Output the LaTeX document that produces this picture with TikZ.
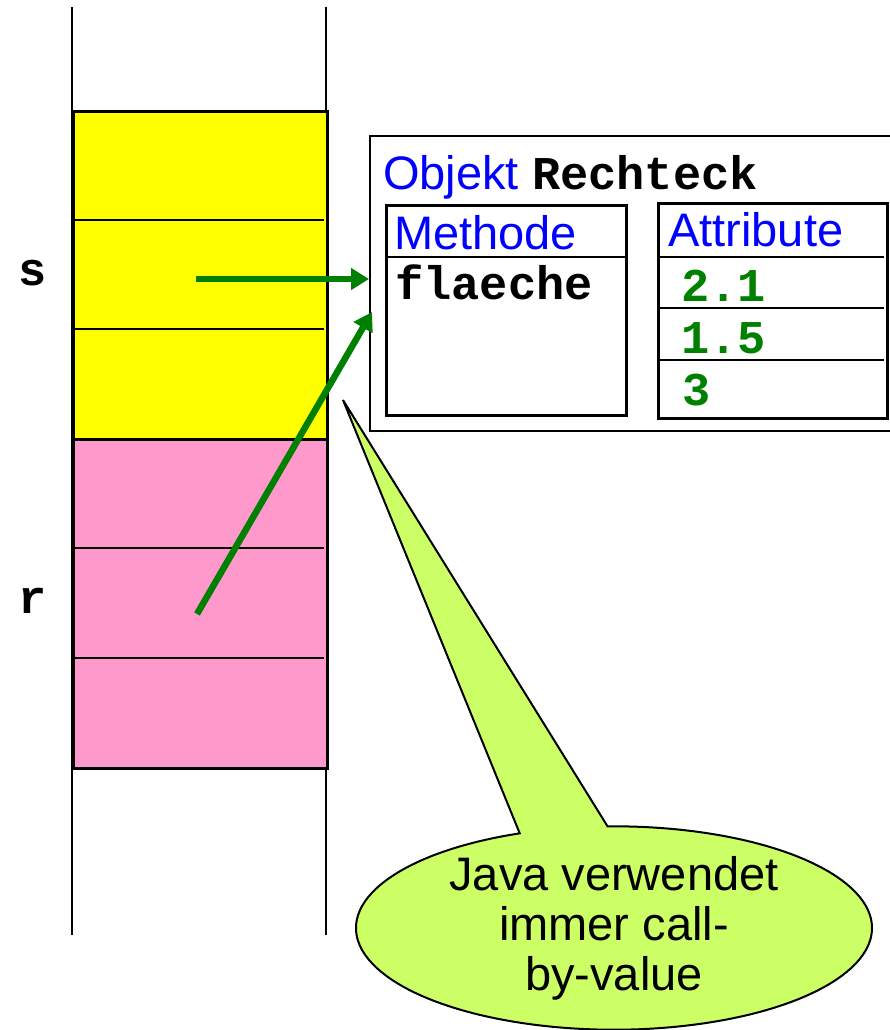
\documentclass[tikz,border=0pt]{standalone}
\usepackage{fontspec}
\setmainfont{Liberation Sans}
\setmonofont{Liberation Mono}
\usepackage{tikz}
\usetikzlibrary{arrows.meta,shapes.callouts}
\definecolor{stackyellow}{HTML}{FFFF00}
\definecolor{stackpink}{HTML}{FF99CC}
\definecolor{refgreen}{HTML}{008000}
\definecolor{titleblue}{HTML}{0000FF}
\definecolor{bubble}{HTML}{CCFF66}

\begin{document}
\begin{tikzpicture}[x=1pt, y=-1pt,
  txt/.style={inner sep=0pt, anchor=base west, font=\fontsize{47}{50}\selectfont},
  code/.style={txt, font=\fontsize{47}{50}\selectfont\ttfamily\bfseries},
  box/.style={draw, inner sep=0pt, anchor=north west, line width=2.5pt},
  ref/.style={draw=refgreen, line width=6.5pt, -{Triangle[length=18pt, width=21pt]}}]
  \useasboundingbox (0,0) rectangle (889,1030);

  % Draw the stack with its two frames s and r
  \draw[line width=2pt] (72,7) -- (72,935);
  \draw[line width=2pt] (326,7) -- (326,935);
  \node[box, line width=3pt, fill=stackyellow, minimum width=254pt, minimum height=328pt] (sframe) at (72,110) {};
  \node[box, line width=3pt, fill=stackpink, minimum width=254pt, minimum height=329pt] (rframe) at (72,438) {};
  \foreach \y in {220,329,548,658}
    \draw[line width=2pt] (74,\y) -- (324,\y);
  \node[code, anchor=base] (slabel) at (33,285) {s};
  \node[code, anchor=base] (rlabel) at (33,613) {r};

  % Draw the object Rechteck with its method and attributes
  \node[box, line width=2pt, minimum width=530pt, minimum height=295pt] (obj) at (369,135) {};
  \node[txt] (objtitle) at (383,189) {\textcolor{titleblue}{Objekt} \texttt{\bfseries Rechteck}};
  \node[box, minimum width=240pt, minimum height=210pt] (meth) at (385,204) {};
  \draw[line width=2.5pt] (385,257) -- (625,257);
  \node[txt, titleblue] (methtitle) at (394,249) {Methode};
  \node[code] (flaeche) at (395,299) {flaeche};
  \node[box, minimum width=229pt, minimum height=215pt] (attr) at (657,202) {};
  \foreach \y in {257,308,360}
    \draw[line width=2.5pt] (659,\y) -- (884,\y);
  \node[txt, titleblue] (attrtitle) at (668,246) {Attribute};
  \node[code, refgreen] (width) at (681,301) {2.1};
  \node[code, refgreen] (height) at (681,353) {1.5};
  \node[code, refgreen] (corners) at (682,405) {3};

  % Draw both references pointing to the same object
  \coordinate (sval) at (196,279);
  \coordinate (rval) at (197,614);
  \coordinate (objin) at (372,312);
  \draw[ref] (sval) -- (sval -| obj.west);
  \draw[ref] (rval) -- (objin);

  % Draw the callout
  \coordinate (tip) at (343,400);
  \node[ellipse callout, draw, fill=bubble, line width=2pt, minimum width=516pt, minimum height=200pt,
    inner sep=0pt, callout absolute pointer={(tip)}, callout pointer arc=20, align=center,
    font=\fontsize{47}{50}\selectfont] (note) at (614,928) {Java verwendet\\immer call-\\by-value};
\end{tikzpicture}
\end{document}
